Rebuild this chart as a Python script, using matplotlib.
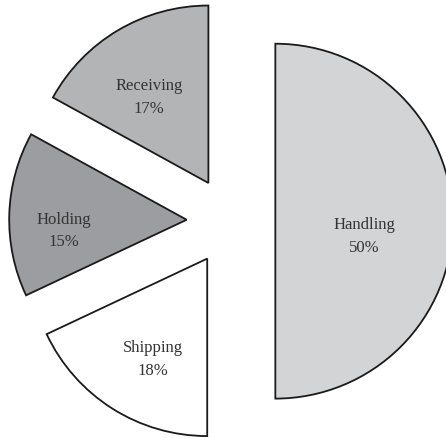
import matplotlib
matplotlib.use("Agg")
import matplotlib.pyplot as plt
import numpy as np

categories = ["Handling", "Shipping", "Holding", "Receiving"]
values = [50, 18, 15, 17]
colors = ["#d3d4d6", "#ffffff", "#9c9da0", "#b3b4b6"]
label_dist = [0.5, 0.57, 0.69, 0.66]

fig = plt.figure(figsize=(4.46, 4.39), dpi=100)
ax = fig.add_axes([0, 0, 1, 1])
explode = [0.25] * len(values)
wedges, _ = ax.pie(values, colors=colors, startangle=90, counterclock=False,
                   explode=explode, radius=1,
                   wedgeprops=dict(edgecolor="#1a1a1a", linewidth=1.3))

total = sum(values)
for w, cat, v, d in zip(wedges, categories, values, label_dist):
    ang = np.deg2rad((w.theta1 + w.theta2) / 2)
    cx, cy = w.center
    x = cx + d * np.cos(ang)
    y = cy + d * np.sin(ang) - 0.08
    ax.text(x, y, f"{cat}\n{round(100 * v / total)}%", ha="center", va="center",
            family="Liberation Serif", fontsize=12, color="#333333",
            linespacing=1.55)

ax.set_xlim(-1.30, 1.21)
ax.set_ylim(-1.222, 1.252)
ax.set_aspect("equal")
ax.axis("off")
fig.savefig("out.png", dpi=100)
